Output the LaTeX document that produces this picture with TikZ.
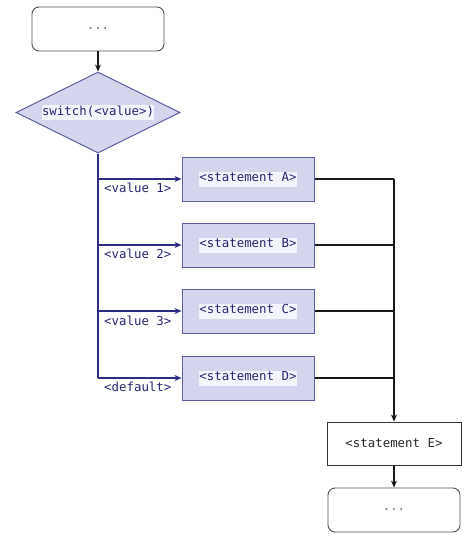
\documentclass[tikz,border=0pt]{standalone}
\usepackage{fontspec}
\setmonofont{DejaVu Sans Mono}
\usetikzlibrary{shapes.geometric,arrows.meta}
\definecolor{boxfill}{HTML}{D5D5EE}
\definecolor{boxline}{HTML}{5E5EA4}
\definecolor{navy}{HTML}{2C2C84}
\definecolor{txt}{HTML}{262670}
\definecolor{hl}{HTML}{F4F4FC}
\definecolor{grayline}{HTML}{505050}
\newcommand{\hlt}[1]{{\setlength{\fboxsep}{0.5pt}\colorbox{hl}{\strut #1}}}
\tikzset{
  x=1pt,y=1pt,
  every node/.style={font=\ttfamily\fontsize{12.4}{14}\selectfont},
  rbox/.style={draw=grayline,line width=0.9pt,fill=white,rounded corners=7pt,minimum width=132pt,minimum height=44pt,inner sep=0pt,text=black!55},
  sbox/.style={draw=boxline,line width=1pt,fill=boxfill,minimum width=132pt,minimum height=44pt,inner sep=0pt,text=txt},
  ebox/.style={draw=black!80,line width=1pt,fill=white,minimum width=134pt,minimum height=43pt,inner sep=0pt,text=black!85},
  dia/.style={diamond,draw=boxline,line width=1pt,fill=boxfill,minimum width=164pt,minimum height=81pt,inner sep=0pt,aspect=2.02,text=txt},
  lbl/.style={text=txt,anchor=north west,inner sep=0pt},
  bline/.style={draw=navy,line width=1.4pt},
  kline/.style={draw=black!90,line width=1.4pt},
  barrow/.style={-{Stealth[length=7pt,width=6pt]}},
}
\begin{document}
\begin{tikzpicture}
\useasboundingbox (0,0) rectangle (474,-541);
\node[rbox] (top) at (98,-29) {...};
\node[dia] (sw) at (98,-112.5) {\hlt{switch(<value>)}};
\node[sbox] (A) at (248,-179) {\hlt{<statement A>}};
\node[sbox] (B) at (248,-245) {\hlt{<statement B>}};
\node[sbox] (C) at (248,-311) {\hlt{<statement C>}};
\node[sbox] (D) at (248,-378) {\hlt{<statement D>}};
\node[ebox] (E) at (394,-443.5) {<statement E>};
\node[rbox] (bot) at (394,-510) {...};
\coordinate (jA) at (sw.south |- A.west);
\coordinate (jB) at (sw.south |- B.west);
\coordinate (jC) at (sw.south |- C.west);
\coordinate (jD) at (sw.south |- D.west);
\coordinate (mA) at (E.north |- A.east);
\coordinate (mB) at (E.north |- B.east);
\coordinate (mC) at (E.north |- C.east);
\coordinate (mD) at (E.north |- D.east);
% top arrow
\draw[kline,barrow] (top.south) -- (sw.north);
% blue trunk
\draw[bline] (sw.south) -- (jD);
\draw[bline,barrow] (jA) -- (A.west);
\draw[bline,barrow] (jB) -- (B.west);
\draw[bline,barrow] (jC) -- (C.west);
\draw[bline,barrow] (jD) -- (D.west);
\node[lbl] (lA) at (104,-183) {<value 1>};
\node[lbl] (lB) at (104,-249) {<value 2>};
\node[lbl] (lC) at (104,-316) {<value 3>};
\node[lbl] (lD) at (104,-382) {<default>};
% right merge
\draw[kline] (A.east) -- (mA);
\draw[kline] (B.east) -- (mB);
\draw[kline] (C.east) -- (mC);
\draw[kline] (D.east) -- (mD);
\draw[kline,barrow] (mA) -- (E.north);
\draw[kline,barrow] (E.south) -- (bot.north);
\end{tikzpicture}
\end{document}
